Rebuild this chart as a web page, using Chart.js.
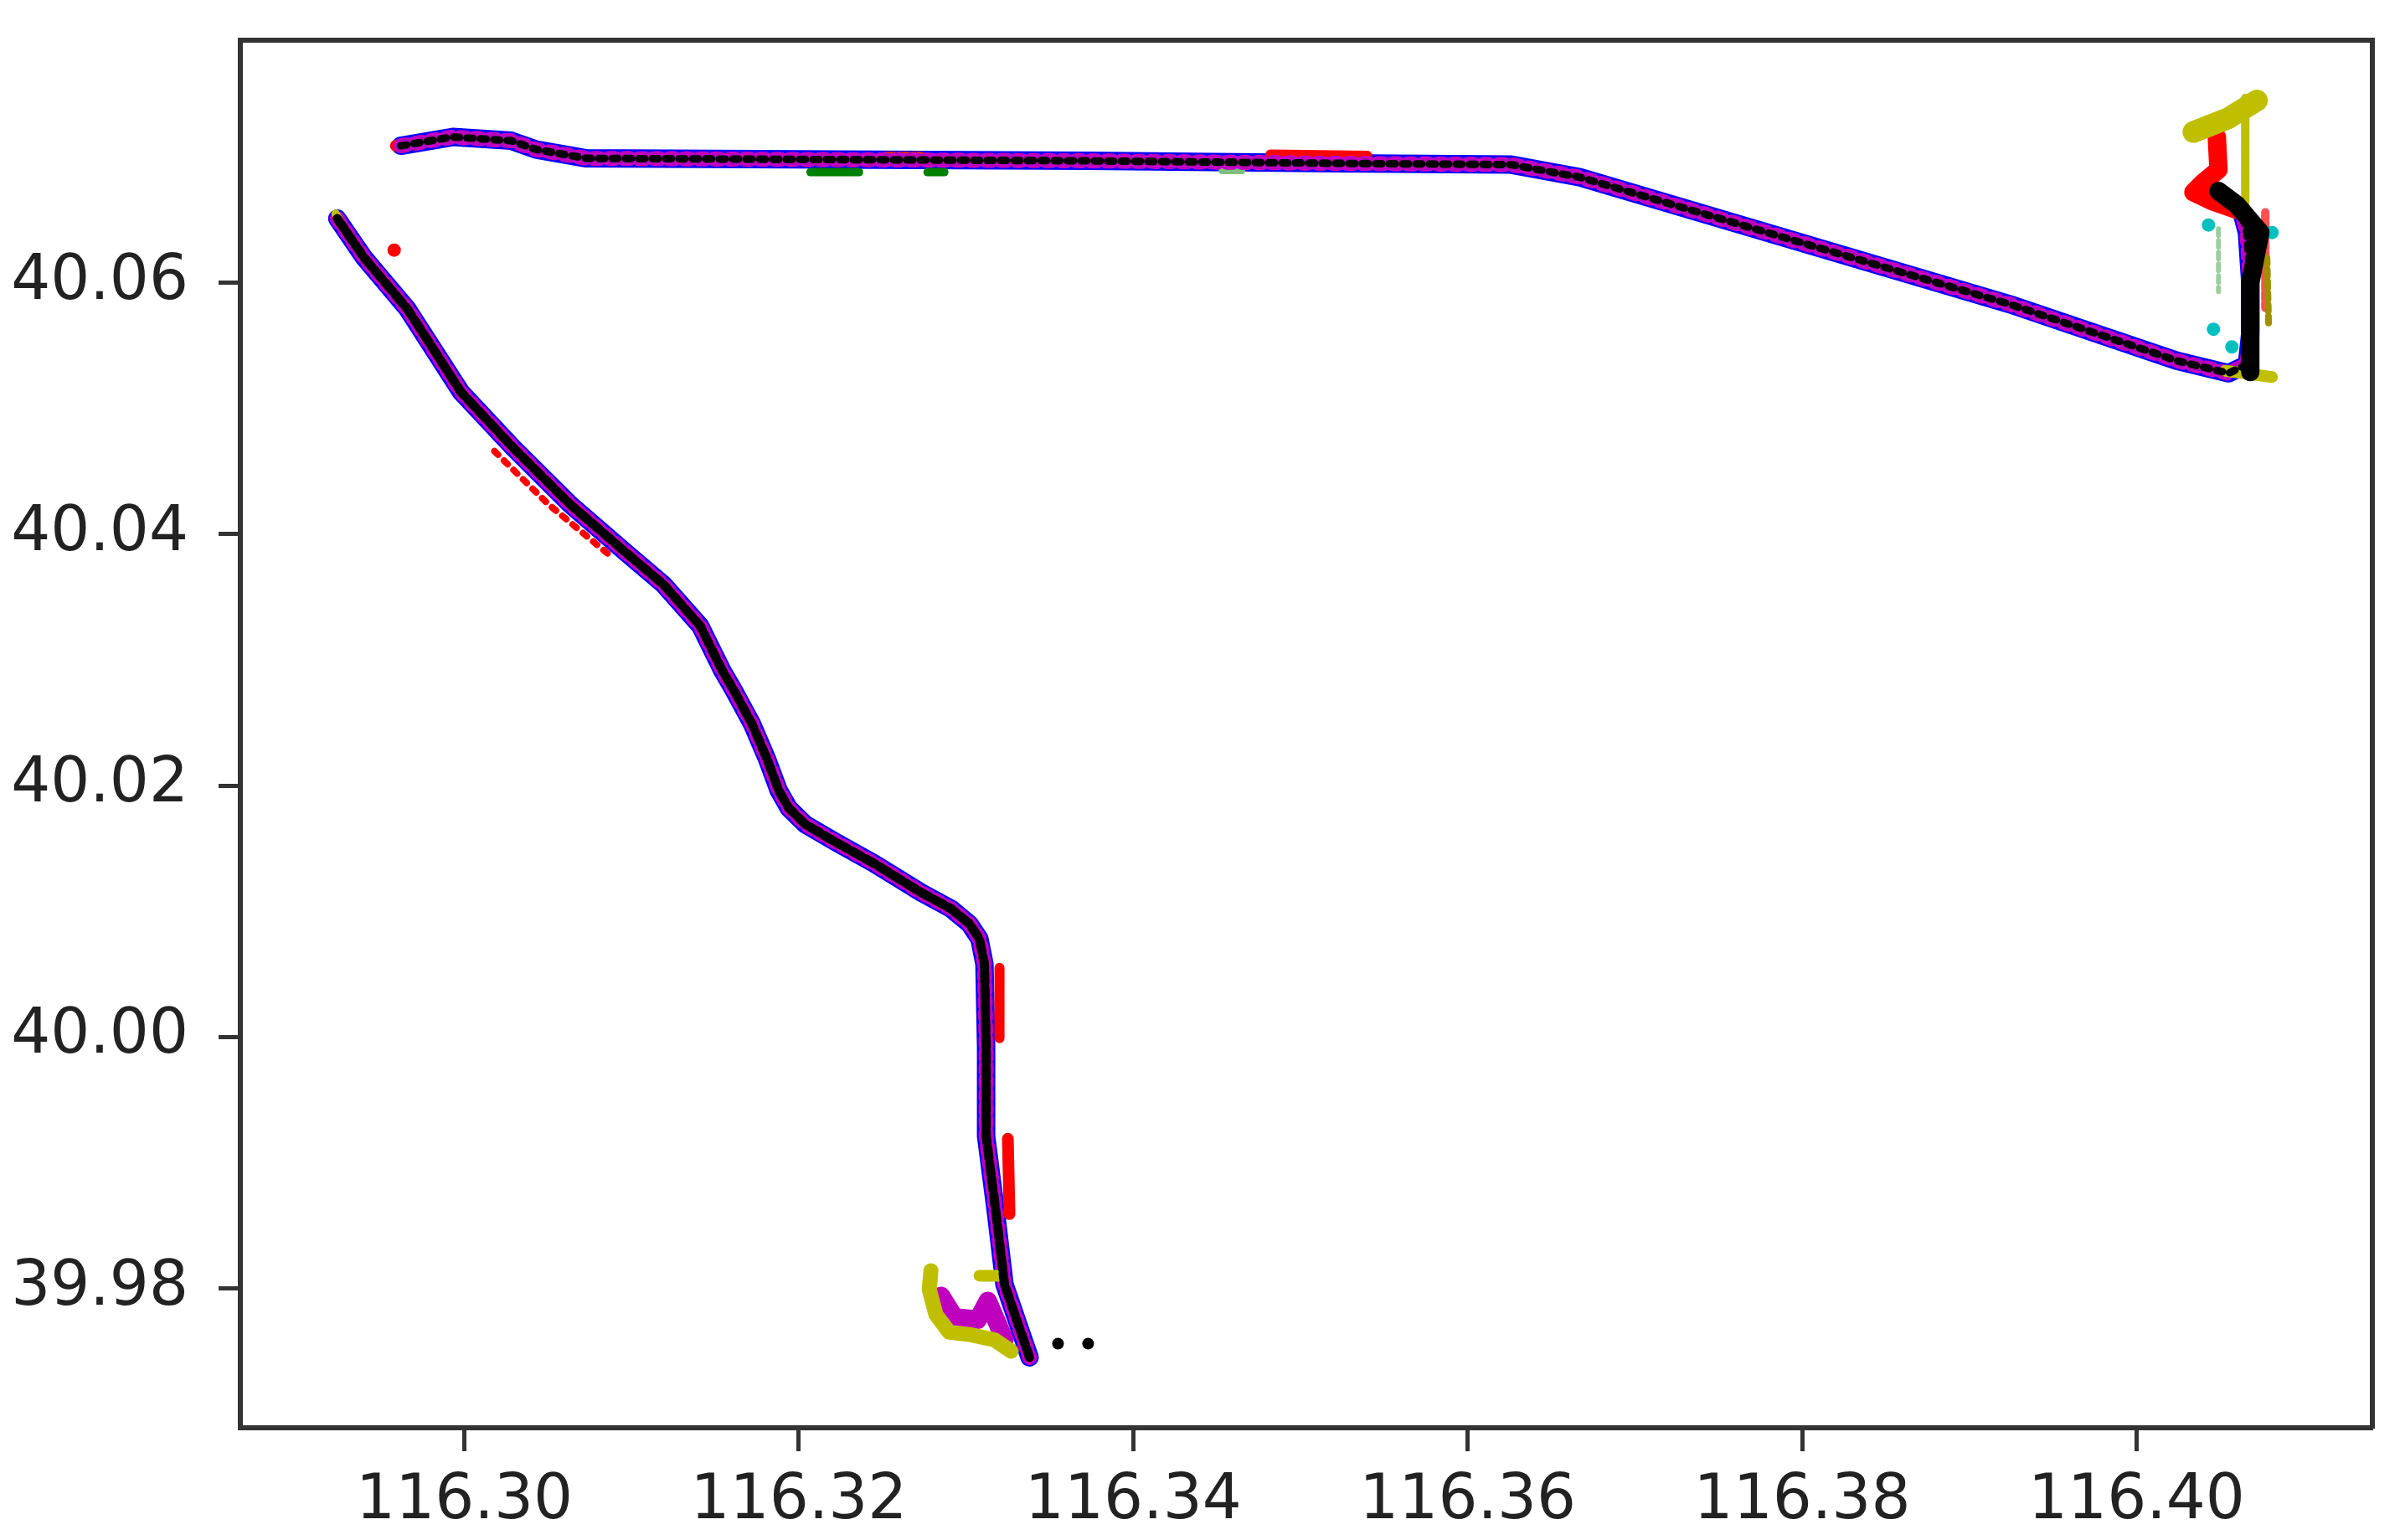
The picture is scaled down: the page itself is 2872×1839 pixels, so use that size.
<!DOCTYPE html>
<html>
<head>
<meta charset="utf-8">
<script src="https://cdn.jsdelivr.net/npm/chart.js@4.4.1/dist/chart.umd.min.js"></script>
<style>
  html, body { margin: 0; padding: 0; background: #fff; }
</style>
</head>
<body>
<canvas id="trackChart" width="2872" height="1839"></canvas>
<script>
// axis ticks
var xTicks = [116.30, 116.32, 116.34, 116.36, 116.38, 116.40];
var yTicks = [39.98, 40.00, 40.02, 40.04, 40.06];

// lower trajectory (west side, going south)
var lowerLng = [116.2924, 116.2940, 116.2966, 116.2998, 116.3029, 116.3063, 116.3096, 116.3119, 116.3141, 116.3154,
                116.3161, 116.3172, 116.3181, 116.3188, 116.3194, 116.3204, 116.3222, 116.3245, 116.3273, 116.3291,
                116.3302, 116.3308, 116.3311, 116.3312, 116.3312, 116.3318, 116.3323, 116.3331, 116.3338];
var lowerLat = [40.0651, 40.0620, 40.0579, 40.0513, 40.0469, 40.0424, 40.0386, 40.0360, 40.0327, 40.0292,
                40.0276, 40.0249, 40.0221, 40.0196, 40.0182, 40.0169, 40.0155, 40.0138, 40.0115, 40.0102,
                40.0090, 40.0078, 40.0058, 39.9992, 39.9921, 39.9859, 39.9803, 39.9772, 39.9745];

// upper trajectory (north side, going east)
var upperLng = [116.2962, 116.2993, 116.3028, 116.3043, 116.3073, 116.3223, 116.3373, 116.3524, 116.3626, 116.3667,
                116.3924, 116.4024, 116.4055, 116.4066, 116.4068, 116.4068, 116.4066, 116.4062];
var upperLat = [40.0709, 40.0716, 40.0713, 40.0706, 40.0699, 40.0698, 40.0697, 40.0695, 40.0694, 40.0684,
                40.0583, 40.0538, 40.0528, 40.0535, 40.0560, 40.0600, 40.0640, 40.0660];

// red pieces
var redStartLng = [116.2959, 116.2975];
var redStartLat = [40.0709, 40.0711];
var redTopLng = [116.3482, 116.3540];
var redTopLat = [40.0702, 40.0701];
var redTop2Lng = [116.3252, 116.3274];
var redTop2Lat = [40.0701, 40.0701];
var redDiagLng = [116.3018, 116.3050, 116.3088];
var redDiagLat = [40.0466, 40.0424, 40.0382];
var redVert1Lng = [116.3320, 116.3320];
var redVert1Lat = [40.0055, 39.9999];
var redVert2Lng = [116.3325, 116.3326];
var redVert2Lat = [39.9919, 39.9859];
var redBlobLng = [116.4048, 116.4049, 116.4040, 116.4034, 116.4045, 116.4060];
var redBlobLat = [40.0716, 40.0690, 40.0680, 40.0672, 40.0665, 40.0658];
var redEastLng = [116.4077, 116.4077];
var redEastLat = [40.0656, 40.0580];
var redDotLng = [116.2958];
var redDotLat = [40.0626];

// green pieces
var greenTop1Lng = [116.3207, 116.3236];
var greenTop1Lat = [40.0688, 40.0688];
var greenTop2Lng = [116.3277, 116.3287];
var greenTop2Lat = [40.0688, 40.0688];
var greenTop3Lng = [116.3453, 116.3465];
var greenTop3Lat = [40.0689, 40.0689];
var greenEastLng = [116.4049, 116.4049];
var greenEastLat = [40.0643, 40.0593];

// cyan dots
var cyanLng = [116.4043, 116.4081, 116.4046, 116.4057];
var cyanLat = [40.0646, 40.0640, 40.0563, 40.0549];

// magenta hook at the south end
var magHookLng = [116.3285, 116.3293, 116.3307, 116.3313, 116.3323];
var magHookLat = [39.9794, 39.9777, 39.9775, 39.9790, 39.9759];

// yellow pieces
var yelHookLng = [116.3279, 116.3278, 116.3282, 116.3290, 116.3303, 116.3317, 116.3327];
var yelHookLat = [39.9814, 39.9799, 39.9779, 39.9765, 39.9763, 39.9759, 39.9750];
var yelSouthLng = [116.3308, 116.3321];
var yelSouthLat = [39.9810, 39.9810];
var yelNorthLng = [116.4034, 116.4055, 116.4072];
var yelNorthLat = [40.0720, 40.0731, 40.0745];
var yelStemLng = [116.4065, 116.4065];
var yelStemLat = [40.0747, 40.0660];
var yelEastLng = [116.4078, 116.4079];
var yelEastLat = [40.0620, 40.0565];
var yelCornerLng = [116.4053, 116.4081];
var yelCornerLat = [40.0530, 40.0525];
var yelTipLng = [116.2923, 116.2926];
var yelTipLat = [40.0655, 40.0648];

// black pieces
var blackBlobLng = [116.4049, 116.4060, 116.4074, 116.4068, 116.4068];
var blackBlobLat = [40.0673, 40.0662, 40.0640, 40.0600, 40.0529];
var blackTailLng = [116.3355, 116.3373];
var blackTailLat = [39.9756, 39.9756];

var xMin = 116.2866, xMax = 116.4141;
var yMin = 39.9689, yMax = 40.0793;

function pts(lngs, lats) {
    return lngs.map(function(v, i) { return {x: v, y: lats[i]}; });
}

// one line dataset for a piece of track
function track(lngs, lats, color, width, dash, order) {
    return {
        data: pts(lngs, lats),
        showLine: true,
        borderColor: color,
        backgroundColor: color,
        borderWidth: width,
        borderDash: dash || [],
        borderCapStyle: 'round',
        borderJoinStyle: 'round',
        pointRadius: 0,
        tension: 0,
        order: order
    };
}

function dots(lngs, lats, color, r, order) {
    return {
        data: pts(lngs, lats),
        showLine: false,
        backgroundColor: color,
        borderWidth: 0,
        pointRadius: r,
        order: order
    };
}

var B = '#0000ff', G = '#008000', R = '#ff0000', C = '#00bfbf', M = '#bf00bf', Y = '#bfbf00', K = '#000000';

var datasets = [
    // blue underneath
    track(lowerLng, lowerLat, B, 22, null, 7),
    track(upperLng, upperLat, B, 22, null, 7),
    // green
    track(greenTop1Lng, greenTop1Lat, G, 10, null, 6),
    track(greenTop2Lng, greenTop2Lat, G, 10, null, 6),
    track(greenTop3Lng, greenTop3Lat, '#7fbf7f', 8, null, 6),
    track(greenEastLng, greenEastLat, '#9ccf9c', 6, [8, 6], 6),
    // red
    track(redStartLng, redStartLat, R, 14, null, 5),
    track(redTopLng, redTopLat, R, 12, null, 5),
    track(redTop2Lng, redTop2Lat, '#d03010', 10, [10, 6], 5),
    track(redDiagLng, redDiagLat, R, 8, [6, 10], 5),
    track(redVert1Lng, redVert1Lat, R, 12, null, 5),
    track(redVert2Lng, redVert2Lat, R, 14, null, 5),
    track(redBlobLng, redBlobLat, R, 22, null, 5),
    track(redEastLng, redEastLat, '#ff5050', 10, [8, 4], 5),
    dots(redDotLng, redDotLat, R, 8, 5),
    // cyan
    dots(cyanLng, cyanLat, C, 8, 4),
    // magenta
    track(lowerLng, lowerLat, M, 18, [7, 9], 3),
    track(upperLng, upperLat, M, 18, [7, 11], 3),
    track(magHookLng, magHookLat, M, 22, null, 3),
    // yellow
    track(yelHookLng, yelHookLat, Y, 18, null, 2),
    track(yelSouthLng, yelSouthLat, Y, 14, null, 2),
    track(yelNorthLng, yelNorthLat, Y, 26, null, 2),
    track(yelStemLng, yelStemLat, Y, 10, null, 2),
    track(yelEastLng, yelEastLat, '#a09000', 8, [8, 6], 2),
    track(yelCornerLng, yelCornerLat, Y, 14, null, 2),
    track(yelTipLng, yelTipLat, Y, 10, null, 2),
    // black on top
    track(lowerLng, lowerLat, K, 11, [14, 5], 1),
    track(upperLng, upperLat, K, 9, [7, 9], 1),
    track(blackBlobLng, blackBlobLat, K, 22, null, 1),
    dots(blackTailLng, blackTailLat, K, 7, 1)
];

var tickFont = { family: 'DejaVu Sans', size: 74 };

var ctx = document.getElementById('trackChart').getContext('2d');
var chart = new Chart(ctx, {
    type: 'scatter',
    data: { datasets: datasets },
    options: {
        responsive: false,
        devicePixelRatio: 1,
        animation: false,
        layout: { padding: 0 },
        plugins: { legend: { display: false }, tooltip: { enabled: false } },
        scales: {
            x: {
                type: 'linear', position: 'bottom', min: xMin, max: xMax,
                afterBuildTicks: function(s) { s.ticks = xTicks.map(function(v) { return {value: v}; }); },
                afterFit: function(s) { s.height = 134; s.paddingLeft = 0; s.paddingRight = 0; },
                ticks: { font: tickFont, color: '#222', padding: 16, maxRotation: 0, autoSkip: false,
                         callback: function(v) { return v.toFixed(2); } },
                grid: { drawOnChartArea: false, tickLength: 28, tickWidth: 5, tickColor: '#333' },
                border: { color: '#333', width: 6 }
            },
            y: {
                type: 'linear', position: 'left', min: yMin, max: yMax,
                afterBuildTicks: function(s) { s.ticks = yTicks.map(function(v) { return {value: v}; }); },
                afterFit: function(s) { s.width = 287; s.paddingTop = 0; s.paddingBottom = 0; },
                ticks: { font: tickFont, color: '#222', padding: 36, autoSkip: false,
                         callback: function(v) { return v.toFixed(2); } },
                grid: { drawOnChartArea: false, tickLength: 26, tickWidth: 5, tickColor: '#333' },
                border: { color: '#333', width: 6 }
            },
            x2: {
                axis: 'x', type: 'linear', position: 'top', min: xMin, max: xMax,
                afterFit: function(s) { s.height = 48; },
                ticks: { display: false },
                grid: { display: false },
                border: { color: '#333', width: 6 }
            },
            y2: {
                axis: 'y', type: 'linear', position: 'right', min: yMin, max: yMax,
                afterFit: function(s) { s.width = 39; },
                ticks: { display: false },
                grid: { display: false },
                border: { color: '#333', width: 6 }
            }
        }
    }
});
</script>
</body>
</html>
